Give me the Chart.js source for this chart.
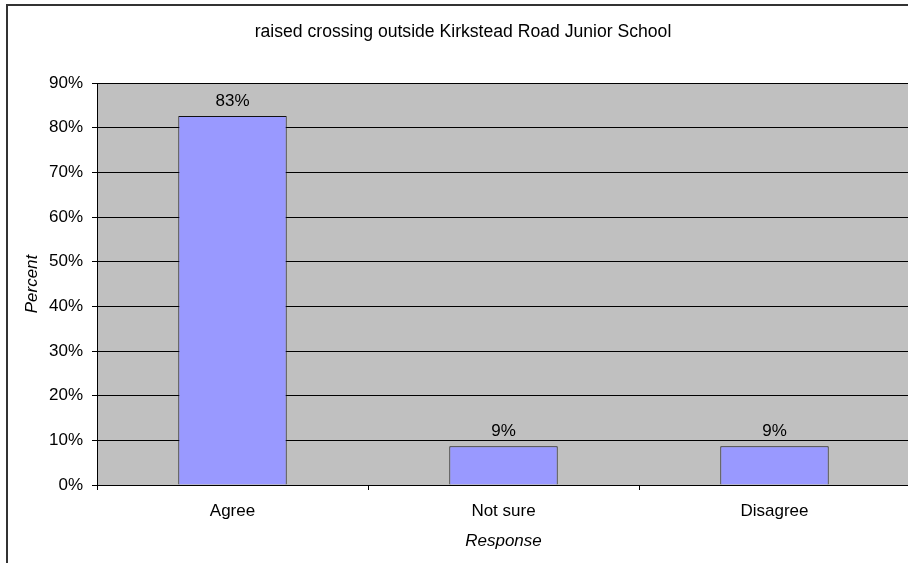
<!DOCTYPE html>
<html>
<head>
<meta charset="utf-8">
<title>raised crossing outside Kirkstead Road Junior School</title>
<script src="https://cdn.jsdelivr.net/npm/chart.js@4.4.0/dist/chart.umd.min.js"></script>
<style>
    html, body { margin: 0; padding: 0; background: #fff; overflow: hidden; }
    #wrap { width: 908px; height: 563px; overflow: hidden; position: relative; }
    #chart { display: block; }
</style>
</head>
<body>
<div id="wrap"><canvas id="chart" width="914" height="563"></canvas></div>
<script>
const chartTitle = 'raised crossing outside Kirkstead Road Junior School';
const categories = ['Agree', 'Not sure', 'Disagree'];
const percentValues = [82.6, 8.7, 8.7];
const valueLabels = ['83%', '9%', '9%'];
const yTicks = [0, 10, 20, 30, 40, 50, 60, 70, 80, 90];

const FONT = "'Liberation Sans', Arial, sans-serif";

// grey plot area, outer frame and the chart title
const frame = {
    id: 'frame',
    beforeDraw(chart) {
        const { ctx, chartArea: a } = chart;
        ctx.save();
        ctx.fillStyle = '#fff';
        ctx.fillRect(0, 0, chart.width, chart.height);
        ctx.fillStyle = '#C0C0C0';
        ctx.fillRect(a.left, a.top, a.right - a.left, a.bottom - a.top);
        ctx.restore();
    },
    afterDraw(chart) {
        const { ctx } = chart;
        ctx.save();
        ctx.strokeStyle = '#333';
        ctx.lineWidth = 2;
        ctx.strokeRect(7, 5, chart.width + 20, chart.height + 20);
        ctx.fillStyle = '#000';
        ctx.font = '17.6px ' + FONT;
        ctx.textAlign = 'center';
        ctx.textBaseline = 'middle';
        ctx.fillText(chartTitle, 463, 32);
        ctx.restore();
    }
};

// value labels above each bar
const barLabels = {
    id: 'barLabels',
    afterDatasetsDraw(chart) {
        const { ctx } = chart;
        const meta = chart.getDatasetMeta(0);
        ctx.save();
        ctx.fillStyle = '#000';
        ctx.font = '17px ' + FONT;
        ctx.textAlign = 'center';
        ctx.textBaseline = 'middle';
        meta.data.forEach((bar, i) => {
            ctx.fillText(valueLabels[i], bar.x, bar.y - 15);
        });
        ctx.restore();
    }
};

new Chart(document.getElementById('chart'), {
    type: 'bar',
    data: {
        labels: categories,
        datasets: [{
            data: percentValues,
            backgroundColor: '#9999FF',
            borderColor: '#111',
            borderWidth: 1,
            barPercentage: 0.4,
            categoryPercentage: 1
        }]
    },
    options: {
        responsive: false,
        animation: false,
        layout: { padding: { top: 83, right: 4, left: 0, bottom: 0 } },
        plugins: {
            legend: { display: false },
            title: { display: false },
            tooltip: { enabled: false }
        },
        scales: {
            x: {
                grid: { display: true, drawOnChartArea: false, drawTicks: true, tickLength: 5, color: '#000' },
                border: { display: true, color: '#000' },
                ticks: { color: '#000', font: { family: FONT, size: 17 }, padding: 11 },
                title: { display: true, text: 'Response', color: '#000',
                    font: { family: FONT, size: 17, style: 'italic' }, padding: { top: 4, bottom: 12 } },
                afterFit(scale) { scale.height = 78; }
            },
            y: {
                min: 0,
                max: 90,
                afterBuildTicks(scale) { scale.ticks = yTicks.map(v => ({ value: v })); },
                grid: { color: '#000', tickLength: 5 },
                border: { display: true, color: '#000' },
                ticks: { color: '#000', font: { family: FONT, size: 17 }, padding: 9,
                    callback: v => v + '%' },
                title: { display: true, text: 'Percent', color: '#000',
                    font: { family: FONT, size: 17, style: 'italic' }, padding: { top: 22, bottom: 0 } },
                afterFit(scale) { scale.width = 97; }
            }
        }
    },
    plugins: [frame, barLabels]
});
</script>
</body>
</html>
